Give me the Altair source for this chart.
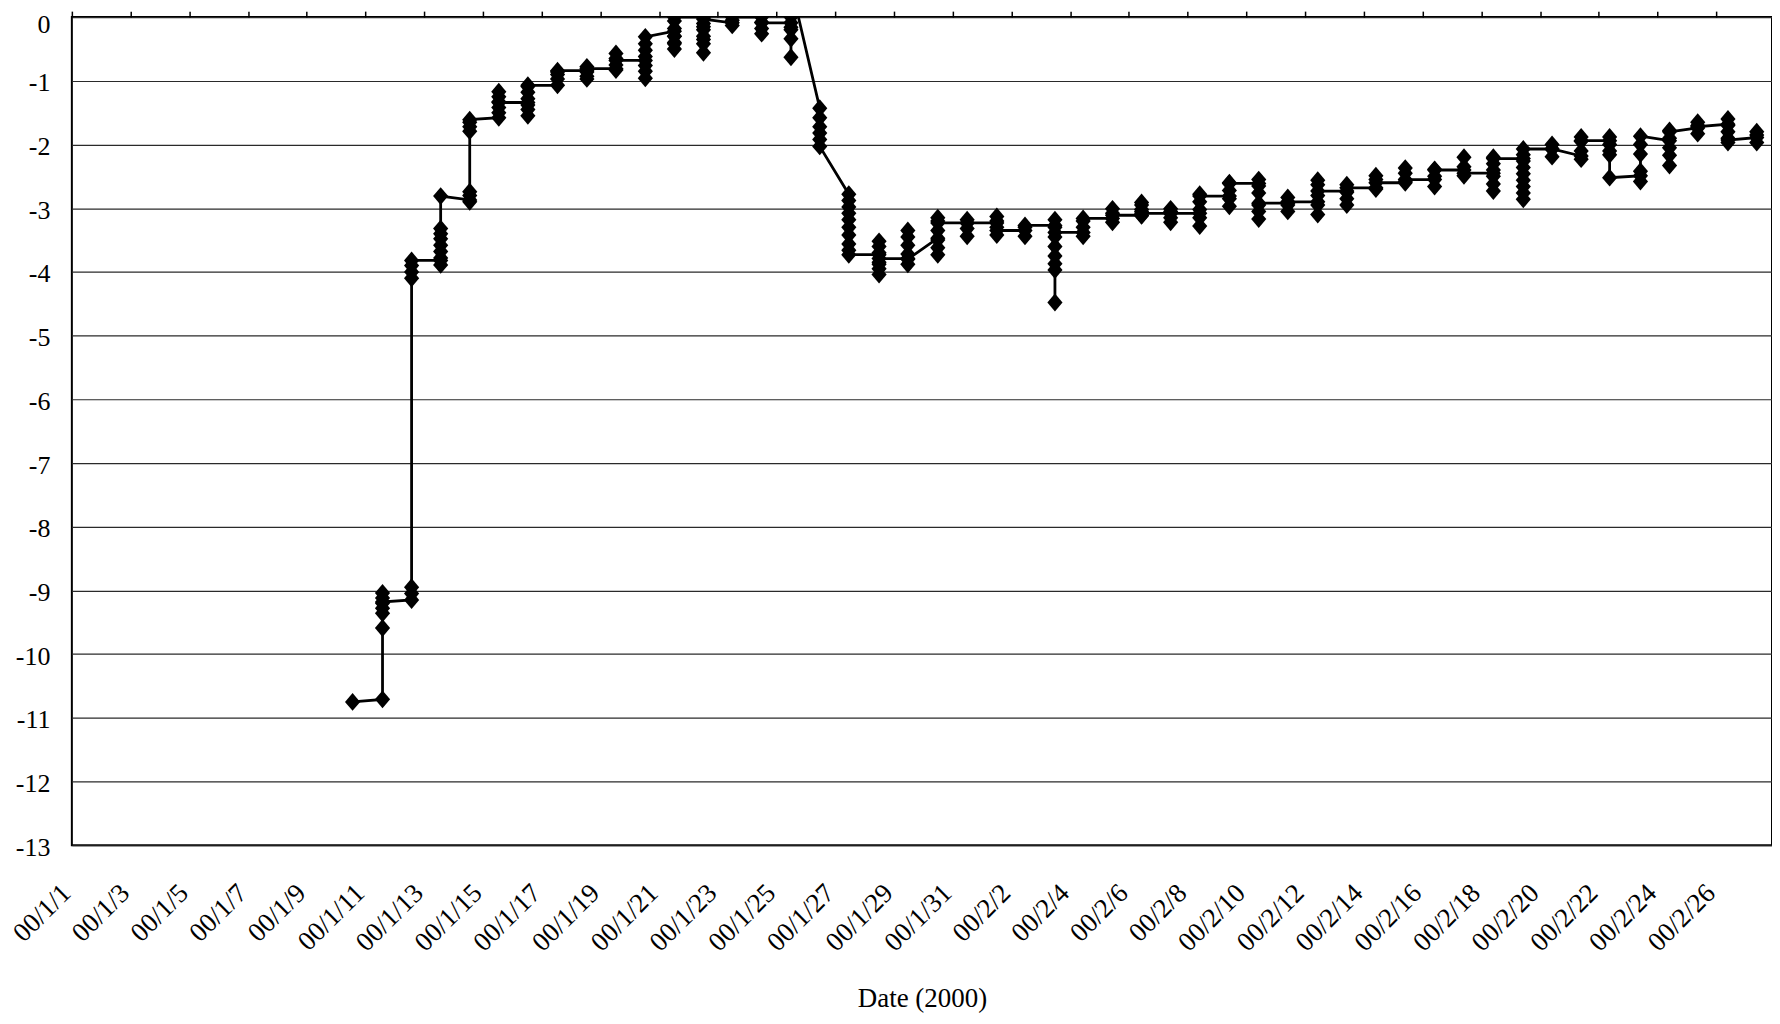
import altair as alt
import pandas as pd

# x position of each daily cluster of readings, in days since 2000-01-01 00:00
cluster_day = [
    9.56, 10.58, 11.57, 12.56, 13.55, 14.54, 15.53, 16.54, 17.54, 18.53,
    19.53, 20.52, 21.51, 22.49, 23.49, 24.49, 25.47, 26.46, 27.49, 28.47,
    29.49, 30.49, 31.50, 32.46, 33.48, 34.44, 35.44, 36.43, 37.42, 38.41,
    39.42, 40.42, 41.41, 42.43, 43.42, 44.41, 45.41, 46.41, 47.41, 48.41,
    49.43, 50.41, 51.40, 52.37, 53.42, 54.41, 55.37, 56.40, 57.38,
]

# readings of each day, in the order they are joined by the line
cluster_values = [
    [-10.75],
    [-10.71, -9.59, -9.36, -9.28, -9.20, -9.12, -9.04, -9.18],
    [-9.15, -9.05, -8.95, -4.10, -4.00, -3.90, -3.82],
    [-3.82, -3.89, -3.78, -3.68, -3.58, -3.48, -3.40, -3.32, -2.81],
    [-2.87, -2.90, -2.80, -2.74, -1.79, -1.72, -1.65, -1.61],
    [-1.58, -1.50, -1.42, -1.33, -1.25, -1.17, -1.34],
    [-1.34, -1.45, -1.55, -1.38, -1.28, -1.18, -1.09, -1.07],
    [-1.07, -0.97, -0.90, -0.86, -0.84],
    [-0.84, -0.93, -0.97, -0.86, -0.78, -0.81],
    [-0.81, -0.83, -0.75, -0.65, -0.57, -0.68],
    [-0.68, -0.76, -0.85, -0.96, -0.62, -0.52, -0.42, -0.31],
    [-0.22, -0.30, -0.40, -0.50, -0.42, -0.30, -0.18, -0.06, 0.00],
    [0.00, -0.10, -0.20, -0.30, -0.42, -0.56, -0.35, -0.15, -0.03],
    [-0.09, -0.13, -0.05, 0.00],
    [0.00, -0.08, -0.18, -0.26, -0.09],
    [-0.09, 0.00, -0.16, -0.34, -0.63, -0.20, 0.50],
    [-1.43, -1.58, -1.72, -1.82, -1.92, -2.03],
    [-2.78, -2.88, -2.98, -3.08, -3.18, -3.30, -3.42, -3.56, -3.66, -3.73],
    [-3.73, -3.85, -3.95, -4.04, -3.88, -3.70, -3.60, -3.52, -3.79],
    [-3.79, -3.88, -3.72, -3.58, -3.45, -3.35, -3.80],
    [-3.47, -3.62, -3.73, -3.50, -3.35, -3.20, -3.15, -3.23],
    [-3.23, -3.32, -3.44, -3.18, -3.23],
    [-3.23, -3.13, -3.20, -3.30, -3.42, -3.35],
    [-3.35, -3.44, -3.30, -3.27],
    [-3.27, -3.18, -3.30, -3.45, -3.60, -3.75, -3.87, -3.97, -4.48, -3.38],
    [-3.38, -3.44, -3.30, -3.20, -3.16],
    [-3.16, -3.22, -3.08, -3.01, -3.11],
    [-3.11, -3.05, -2.95, -2.91, -3.02, -3.12, -3.08],
    [-3.08, -3.15, -3.22, -3.05, -3.01, -3.08],
    [-3.08, -3.28, -3.15, -3.02, -2.90, -2.78, -2.81],
    [-2.81, -2.97, -2.85, -2.72, -2.60, -2.61],
    [-2.61, -2.55, -2.65, -2.76, -2.95, -3.05, -3.17, -2.92],
    [-2.92, -3.05, -2.95, -2.83, -2.90],
    [-2.90, -3.10, -2.95, -2.80, -2.63, -2.56, -2.73],
    [-2.73, -2.95, -2.85, -2.75, -2.63, -2.68],
    [-2.68, -2.70, -2.55, -2.49, -2.60],
    [-2.60, -2.58, -2.45, -2.37, -2.55],
    [-2.55, -2.66, -2.50, -2.39, -2.40],
    [-2.40, -2.49, -2.35, -2.20, -2.45],
    [-2.45, -2.73, -2.62, -2.50, -2.40, -2.30, -2.20, -2.22],
    [-2.22, -2.86, -2.76, -2.66, -2.56, -2.46, -2.36, -2.26, -2.16, -2.07],
    [-2.07, -2.19, -2.00, -2.07],
    [-2.18, -2.23, -2.10, -1.95, -1.88, -1.94],
    [-1.94, -1.88, -2.00, -2.10, -2.16, -2.52],
    [-2.49, -2.58, -2.42, -2.15, -2.00, -1.87],
    [-1.94, -2.17, -2.33, -2.05, -1.90, -1.78, -1.80],
    [-1.74, -1.83, -1.70, -1.65, -1.72],
    [-1.68, -1.60, -1.70, -1.80, -1.90, -1.97, -1.93],
    [-1.89, -1.97, -1.85, -1.80],
]

# axis ticks / labels
tick_days = list(range(0, 57, 2))
tick_labels = [
    "00/1/1", "00/1/3", "00/1/5", "00/1/7", "00/1/9", "00/1/11", "00/1/13",
    "00/1/15", "00/1/17", "00/1/19", "00/1/21", "00/1/23", "00/1/25",
    "00/1/27", "00/1/29", "00/1/31", "00/2/2", "00/2/4", "00/2/6", "00/2/8",
    "00/2/10", "00/2/12", "00/2/14", "00/2/16", "00/2/18", "00/2/20",
    "00/2/22", "00/2/24", "00/2/26",
]
y_ticks = list(range(-13, 1))
x_title = "Date (2000)"

rows = []
seq = 0
for d, vals in zip(cluster_day, cluster_values):
    for v in vals:
        rows.append({"seq": seq, "day": d, "value": v})
        seq += 1
df = pd.DataFrame(rows)

FONT = "Liberation Serif"
label_js = "[" + ",".join("'%s'" % s for s in tick_labels) + "]"

x_scale = alt.Scale(domain=[0, 57.9], nice=False, zero=False)
y_scale = alt.Scale(domain=[-13, 0], nice=False, zero=False)


def y_axis():
    return alt.Axis(
        values=y_ticks,
        labelExpr="'' + datum.value",
        title=None,
        domain=False,
        ticks=False,
        tickSize=0,
        grid=True,
        gridColor="#2a2a2a",
        gridWidth=1.2,
        labelFont=FONT,
        labelFontSize=26,
        labelColor="black",
        labelPadding=22,
        labelOffset={"condition": {"test": "datum.value == 0", "value": 7}, "value": 2},
    )


bottom_axis = alt.Axis(
    values=tick_days,
    labelExpr=label_js + "[round(datum.value / 2)]",
    labelAngle=-45,
    labelAlign="right",
    labelBaseline="alphabetic",
    labelFont=FONT,
    labelFontSize=27,
    labelColor="black",
    labelPadding=49,
    labelOverlap=False,
    labelBound=False,
    ticks=False,
    tickSize=0,
    domain=False,
    grid=False,
    title=x_title,
    titleFont=FONT,
    titleFontSize=27,
    titleFontWeight="normal",
    titleColor="black",
    titlePadding=30,
    orient="bottom",
)

top_axis = alt.Axis(
    values=tick_days,
    labels=False,
    ticks=True,
    tickSize=6,
    tickWidth=1.5,
    tickColor="black",
    domain=False,
    grid=False,
    title=None,
    orient="top",
)

line = alt.Chart(df).mark_line(color="black", strokeWidth=2.8, clip=True).encode(
    x=alt.X("day:Q", scale=x_scale, axis=bottom_axis),
    y=alt.Y("value:Q", scale=y_scale, axis=y_axis()),
    order=alt.Order("seq:Q"),
)

points = alt.Chart(df).mark_point(
    shape="M0,-1L0.85,0L0,1L-0.85,0Z",
    size=320,
    filled=True,
    color="black",
    opacity=1,
    clip=True,
).encode(
    x=alt.X("day:Q", scale=x_scale, axis=top_axis),
    y=alt.Y("value:Q", scale=y_scale, axis=y_axis()),
)

chart = (
    alt.layer(line, points)
    .resolve_axis(x="independent")
    .properties(
        width=1704,
        height=830,
        autosize=alt.AutoSizeParams(type="none"),
        padding={"left": 64, "top": 8, "right": 0, "bottom": 168},
        background="white",
    )
    .configure_view(stroke="black", strokeWidth=2)
)

chart.save("out.html", embed_options={"renderer": "svg", "actions": False})
